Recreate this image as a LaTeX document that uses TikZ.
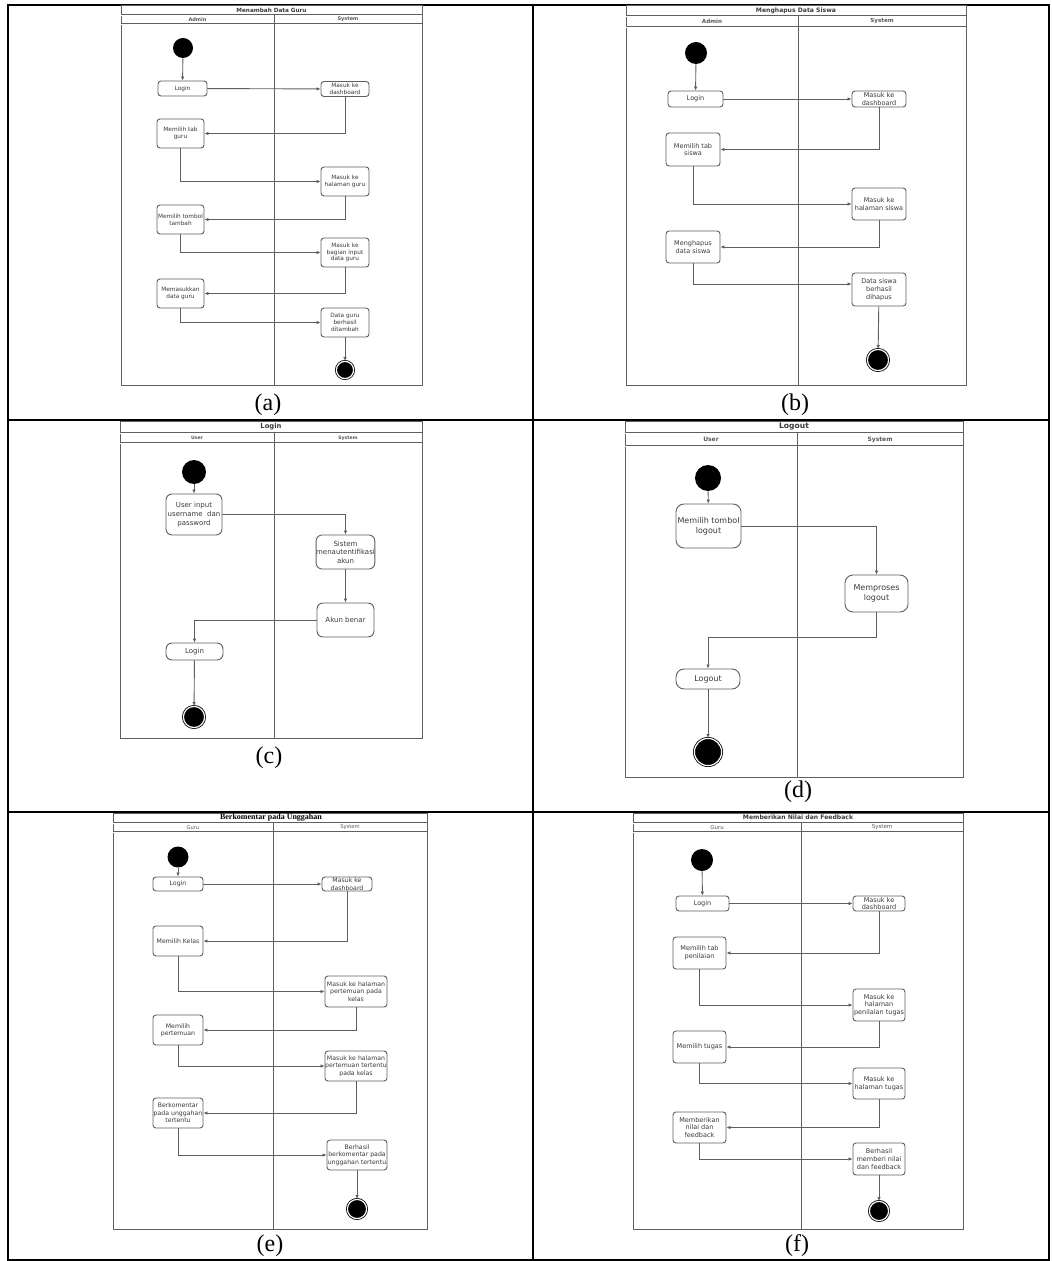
\documentclass[tikz,border=0pt]{standalone}
\usepackage{fontspec}
\setmainfont{Liberation Serif}
\newfontfamily\dvsans{DejaVu Sans}
\usetikzlibrary{arrows.meta}
\definecolor{umlLine}{HTML}{5F5F5F}
\definecolor{umlText}{HTML}{3A3A3A}
\newdimen\px \px=0.5pt
% frame of one swimlane diagram: left, top, right, bottom, divider, title rule, header rule
\newcommand{\swimframe}[7]{%
  \draw[laneline] (#1,#2) rectangle (#3,#4);
  \draw[laneline, double, double distance=0.45pt, line width=0.3pt] (#1,#6) -- (#3,#6);
  \draw[laneline, double, double distance=0.45pt, line width=0.3pt] (#1,#7) -- (#3,#7);
  \draw[laneline] (#5,#6) -- (#5,#4);
}
\begin{document}
\begin{tikzpicture}[x=0.5pt, y=-0.5pt,
    tblline/.style={draw=black, line width=0.8pt},
    laneline/.style={draw=umlLine, line width=0.5pt},
    act/.style={draw=umlLine, line width=0.45pt, rounded corners=1.5pt, fill=white,
      align=center, inner sep=0pt, text=umlText},
    sz/.style 2 args={minimum width=#1\px, minimum height=#2\px},
    initstate/.style={circle, fill=black, inner sep=0pt, minimum size=#1\px},
    endstate/.style={circle, fill=black, draw=black, double=white, double distance=0.6pt,
      line width=0.4pt, inner sep=0pt, minimum size=#1\px},
    flow/.style={draw=umlLine, line width=0.45pt, -{Latex[length=2pt, width=1.8pt]}},
    ttl/.style={font=\dvsans\bfseries\fontsize{#1}{#1}\selectfont, text=umlText, inner sep=0pt},
    hdrb/.style={font=\dvsans\bfseries\fontsize{#1}{#1}\selectfont, text=umlText!85, inner sep=0pt},
    hdr/.style={font=\dvsans\fontsize{#1}{#1}\selectfont, text=umlText!85, inner sep=0pt},
    subcap/.style={font=\fontsize{12}{14}\selectfont, inner sep=0pt}]
\useasboundingbox (0,0) rectangle (1051,1261);

% table grid
\draw[tblline] (8,5) rectangle (1049,1260);
\draw[tblline] (8,420) -- (1049,420) (8,812) -- (1049,812) (533,5) -- (533,1260);

% (a) Menambah Data Guru
\swimframe{121}{6}{422}{386}{274}{15}{24}
\node[ttl=2.85] (ta) at (271.5,10.5) {Menambah Data Guru};
\node[hdrb=2.5] (ha1) at (197.5,19.5) {Admin};
\node[hdrb=2.5] (ha2) at (348,19.5) {System};
\begin{scope}[act/.append style={font=\dvsans\fontsize{2.9}{3.4}\selectfont}]
  \node[initstate=20] (a0) at (183,48) {};
  \node[act, sz={49}{15}] (a1) at (182.5,88.5) {Login};
  \node[act, sz={48}{15}] (a2) at (345,89) {Masuk ke\\dashboard};
  \node[act, sz={47}{29}] (a3) at (180.5,133.5) {Memilih tab\\guru};
  \node[act, sz={48}{29}] (a4) at (345,181.5) {Masuk ke\\halaman guru};
  \node[act, sz={47}{29}] (a5) at (180.5,219.5) {Memilih tombol\\tambah};
  \node[act, sz={48}{29}] (a6) at (345,252.5) {Masuk ke\\bagian input\\data guru};
  \node[act, sz={47}{29}] (a7) at (180.5,293.5) {Memasukkan\\data guru};
  \node[act, sz={48}{29}] (a8) at (345,322.5) {Data guru\\berhasil\\ditambah};
  \node[endstate=17.2] (a9) at (345,370) {};
\end{scope}
\draw[flow] (a0) -- (a1);
\draw[flow] (a1) -- (a2);
\foreach \s/\t/\side in {a2/a3/east, a3/a4/west, a4/a5/east, a5/a6/west, a6/a7/east, a7/a8/west}
  \draw[flow] (\s.south) |- (\t.\side);
\draw[flow] (a8) -- (a9);

% (b) Menghapus Data Siswa
\swimframe{626}{6}{966}{386}{798}{16}{27}
\node[ttl=3.05] (tb) at (796,11) {Menghapus Data Siswa};
\node[hdrb=2.8] (hb1) at (712,21.5) {Admin};
\node[hdrb=2.8] (hb2) at (882,21.5) {System};
\begin{scope}[act/.append style={font=\dvsans\fontsize{3.25}{3.9}\selectfont}]
  \node[initstate=22] (b0) at (696,53) {};
  \node[act, sz={55}{16}] (b1) at (695.5,99) {Login};
  \node[act, sz={54}{16}] (b2) at (879,99) {Masuk ke\\dashboard};
  \node[act, sz={54}{33}] (b3) at (693,149.5) {Memilih tab\\siswa};
  \node[act, sz={54}{32}] (b4) at (879,204) {Masuk ke\\halaman siswa};
  \node[act, sz={54}{32}] (b5) at (693,247) {Menghapus\\data siswa};
  \node[act, sz={54}{33}] (b6) at (879,289.5) {Data siswa\\berhasil\\dihapus};
  \node[endstate=21.2] (b7) at (878,360) {};
\end{scope}
\draw[flow] (b0) -- (b1);
\draw[flow] (b1) -- (b2);
\foreach \s/\t/\side in {b2/b3/east, b3/b4/west, b4/b5/east}
  \draw[flow] (\s.south) |- (\t.\side);
\draw[flow] (b5.south) |- ([yshift=2.75pt]b6.west);
\draw[flow] (b6) -- (b7);

% (c) Login
\swimframe{120}{421}{422}{738}{274}{433}{443}
\node[ttl=3.4] (tc) at (271,427) {Login};
\node[hdrb=2.3] (hc1) at (197,438) {User};
\node[hdrb=2.3] (hc2) at (348,438) {System};
\begin{scope}[act/.append style={font=\dvsans\fontsize{3.5}{4.3}\selectfont, rounded corners=3pt}]
  \node[initstate=24] (c0) at (194,472) {};
  \node[act, sz={56}{41}] (c1) at (194,514.5) {User input\\username\ \ dan\\password};
  \node[act, sz={57}{34}] (c2) at (345.5,552) {Sistem\\menautentifikasi\\akun};
  \node[act, sz={57}{34}] (c3) at (345.5,620) {Akun benar};
  \node[act, sz={57}{17}] (c4) at (194.5,651.5) {Login};
  \node[endstate=21.2] (c5) at (194,717) {};
\end{scope}
\draw[flow] (c0) -- (c1);
\draw[flow] (c1.east) -| (c2.north);
\draw[flow] (c2) -- (c3);
\draw[flow] (c3.west) -| (c4.north);
\draw[flow] (c4) -- (c5);

% (d) Logout
\swimframe{625}{421}{963}{777}{797}{433}{446}
\node[ttl=3.8] (td) at (794,427) {Logout};
\node[hdrb=3] (hd1) at (711,439.5) {User};
\node[hdrb=3] (hd2) at (880,439.5) {System};
\begin{scope}[act/.append style={font=\dvsans\fontsize{4}{4.9}\selectfont, rounded corners=4pt}]
  \node[initstate=26] (d0) at (708,478) {};
  \node[act, sz={65}{44}] (d1) at (708.5,526) {Memilih tombol\\logout};
  \node[act, sz={63}{37}] (d2) at (876.5,593.5) {Memproses\\logout};
  \node[act, sz={64}{20}] (d3) at (708,679) {Logout};
  \node[endstate=27.2] (d4) at (708,752) {};
\end{scope}
\draw[flow] (d0) -- (d1);
\draw[flow] (d1.east) -| (d2.north);
\draw[flow] (d2.south) -- ++(0,25) -| (d3.north);
\draw[flow] (d3) -- (d4);

% (e) Berkomentar pada Unggahan
\swimframe{113}{813}{427}{1229}{273}{823}{832}
\node[font=\bfseries\fontsize{4}{4}\selectfont, inner sep=0pt] (te) at (271,817.5) {Berkomentar pada Unggahan};
\node[hdr=2.6] (he1) at (193,827.5) {Guru};
\node[hdr=2.6] (he2) at (350,827.5) {System};
\begin{scope}[act/.append style={font=\dvsans\fontsize{3.1}{3.7}\selectfont}]
  \node[initstate=21] (e0) at (178,857) {};
  \node[act, sz={50}{14}] (e1) at (178,884) {Login};
  \node[act, sz={50}{14}] (e2) at (347,884) {Masuk ke\\dashboard};
  \node[act, sz={50}{30}] (e3) at (178,941) {Memilih Kelas};
  \node[act, sz={62}{31}] (e4) at (356,991.5) {Masuk ke halaman\\pertemuan pada\\kelas};
  \node[act, sz={50}{30}] (e5) at (178,1030) {Memilih\\pertemuan};
  \node[act, sz={62}{30}] (e6) at (356,1066) {Masuk ke halaman\\pertemuan tertentu\\pada kelas};
  \node[act, sz={50}{30}] (e7) at (178,1113) {Berkomentar\\pada unggahan\\tertentu};
  \node[act, sz={60}{30}] (e8) at (357,1155) {Berhasil\\berkomentar pada\\unggahan tertentu};
  \node[endstate=19.2] (e9) at (357,1209) {};
\end{scope}
\draw[flow] (e0) -- (e1);
\draw[flow] (e1) -- (e2);
\foreach \s/\t/\side in {e2/e3/east, e3/e4/west, e4/e5/east, e5/e6/west, e6/e7/east, e7/e8/west}
  \draw[flow] (\s.south) |- (\t.\side);
\draw[flow] (e8) -- (e9);

% (f) Memberikan Nilai dan Feedback
\swimframe{633}{813}{963}{1229}{801}{823}{832}
\node[ttl=3.05] (tf) at (798,817.5) {Memberikan Nilai dan Feedback};
\node[hdr=2.75] (hf1) at (717,827.5) {Guru};
\node[hdr=2.75] (hf2) at (882,827.5) {System};
\begin{scope}[act/.append style={font=\dvsans\fontsize{3.25}{3.9}\selectfont}]
  \node[initstate=22] (f0) at (702,860) {};
  \node[act, sz={53}{15}] (f1) at (702.5,903.5) {Login};
  \node[act, sz={52}{15}] (f2) at (879,903.5) {Masuk ke\\dashboard};
  \node[act, sz={53}{32}] (f3) at (699.5,953) {Memilih tab\\penilaian};
  \node[act, sz={52}{32}] (f4) at (879,1005) {Masuk ke\\halaman\\penilaian tugas};
  \node[act, sz={53}{32}] (f5) at (699.5,1047) {Memilih tugas};
  \node[act, sz={52}{31}] (f6) at (879,1083.5) {Masuk ke\\halaman tugas};
  \node[act, sz={53}{31}] (f7) at (699.5,1127.5) {Memberikan\\nilai dan\\feedback};
  \node[act, sz={52}{32}] (f8) at (879,1159) {Berhasil\\memberi nilai\\dan feedback};
  \node[endstate=19.2] (f9) at (879,1211) {};
\end{scope}
\draw[flow] (f0) -- (f1);
\draw[flow] (f1) -- (f2);
\foreach \s/\t/\side in {f2/f3/east, f3/f4/west, f4/f5/east, f5/f6/west, f6/f7/east, f7/f8/west}
  \draw[flow] (\s.south) |- (\t.\side);
\draw[flow] (f8) -- (f9);

% captions
\foreach \lbl/\x/\y in {a/268/405, b/795/405, c/269/758, d/798/792, e/270/1246, f/797/1246}
  \node[subcap] (cap\lbl) at (\x,\y) {(\lbl)};
\end{tikzpicture}
\end{document}
